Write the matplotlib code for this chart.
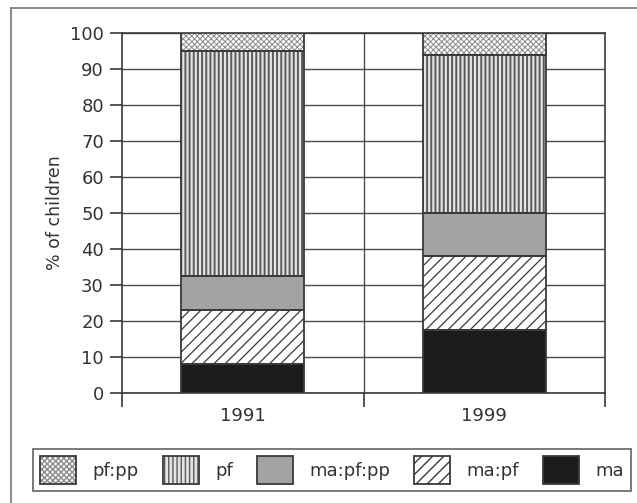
import matplotlib
matplotlib.use("Agg")
import matplotlib.pyplot as plt
from matplotlib.patches import Patch
from matplotlib.lines import Line2D

years = ["1991", "1999"]
categories = ["ma", "ma:pf", "ma:pf:pp", "pf", "pf:pp"]
values = {
    "ma": [8.0, 17.5],
    "ma:pf": [15.0, 20.5],
    "ma:pf:pp": [9.5, 12.0],
    "pf": [62.5, 44.0],
    "pf:pp": [5.0, 6.0],
}
legend_order = ["pf:pp", "pf", "ma:pf:pp", "ma:pf", "ma"]

# fill, hatch, hatch colour, hatch width per category
styles = {
    "ma": ("#1c1c1c", None, "#1c1c1c", 0.8),
    "ma:pf": ("white", "///", "#3a3a3a", 0.9),
    "ma:pf:pp": ("#a3a3a3", None, "#a3a3a3", 0.8),
    "pf": ("#e4e4e4", "||||", "#5a5a5a", 1.4),
    "pf:pp": ("white", "xxxxxx", "#8a8a8a", 0.7),
}

plt.rcParams["font.family"] = "DejaVu Sans"
EDGE = "#3a3a3a"

fig = plt.figure(figsize=(6.37, 5.03), dpi=100)
ax = fig.add_axes([0.1915, 0.2193, 0.7583, 0.7145])

xs = [0.5, 1.5]
width = 0.51
bottom = [0.0, 0.0]
for cat in categories:
    fc, hatch, hc, hw = styles[cat]
    v = values[cat]
    with plt.rc_context({"hatch.linewidth": hw}):
        ax.bar(xs, v, width, bottom=bottom, color=fc, hatch=hatch,
               edgecolor=hc, linewidth=0, zorder=3)
    ax.bar(xs, v, width, bottom=bottom, fill=False, edgecolor=EDGE,
           linewidth=1.3, zorder=4)
    bottom = [b + x for b, x in zip(bottom, v)]

ax.set_xlim(0, 2)
ax.set_ylim(0, 100)
ax.set_yticks(range(0, 101, 10))
ax.set_xticks([0, 1, 2])
ax.set_xticklabels([])
ax.set_xticks(xs, minor=True)
ax.set_xticklabels(years, minor=True)
ax.tick_params(axis="x", which="minor", length=0, pad=10, labelsize=13,
               labelcolor="#333333")
ax.tick_params(axis="x", which="major", direction="out", length=10,
               width=1.2, color=EDGE)
ax.tick_params(axis="y", direction="out", length=9, width=1.2, color=EDGE,
               labelsize=13, pad=4, labelcolor="#333333")
ax.grid(axis="y", color="#4a4a4a", linewidth=1.0, zorder=1)
ax.axvline(1, color="#4a4a4a", linewidth=1.0, zorder=1)
for s in ax.spines.values():
    s.set_color(EDGE)
    s.set_linewidth(1.2)
ax.set_ylabel("% of children", fontsize=12.5, color="#333333")
ax.yaxis.set_label_coords(-0.12, 0.5)

handles = []
for cat in legend_order:
    fc, hatch, hc, hw = styles[cat]
    with plt.rc_context({"hatch.linewidth": hw}):
        p = Patch(facecolor=fc, hatch=hatch, edgecolor=hc, linewidth=0)
    handles.append((p, Patch(fill=False, edgecolor=EDGE, linewidth=1.3)))
leg = fig.legend(handles, legend_order, loc="center", ncol=5,
                 bbox_to_anchor=(33 / 637, 1 - 497 / 503, 598 / 637, 54 / 503),
                 mode="expand", fontsize=13, handlelength=2.0,
                 handleheight=1.95, handletextpad=0.9, columnspacing=1.1,
                 borderaxespad=0, frameon=True, fancybox=False, borderpad=0.4)
leg.get_frame().set_edgecolor(EDGE)
leg.get_frame().set_linewidth(1.2)
for t in leg.get_texts():
    t.set_color("#333333")

# outer frame (left and top edges visible)
fig.add_artist(Line2D([11 / 637, 11 / 637], [0, 1 - 8 / 503],
                      transform=fig.transFigure, color="#777777", lw=1.2))
fig.add_artist(Line2D([11 / 637, 1], [1 - 8 / 503, 1 - 8 / 503],
                      transform=fig.transFigure, color="#777777", lw=1.2))

fig.savefig("out.png", dpi=100, facecolor="white")
